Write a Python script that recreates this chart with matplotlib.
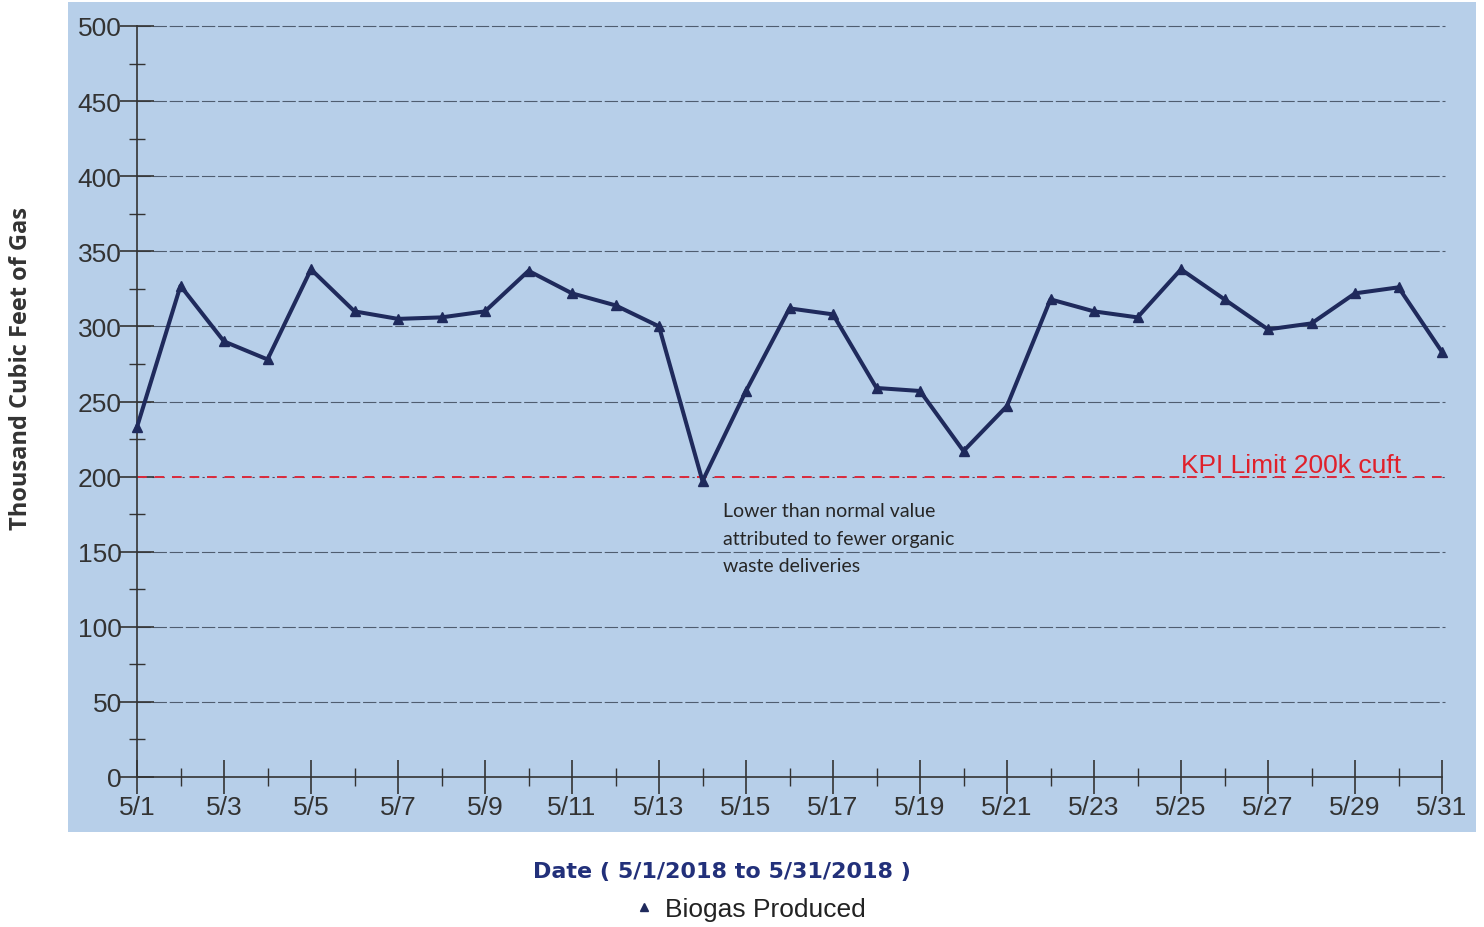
import matplotlib
matplotlib.use("Agg")
import matplotlib.pyplot as plt
from matplotlib.patches import Rectangle
from matplotlib.lines import Line2D

# Daily biogas production, May 2018 (thousand cubic feet)
days = list(range(1, 32))
biogas = [233, 327, 290, 278, 338, 310, 305, 306, 310, 337, 322, 314, 300, 197,
          257, 312, 308, 259, 257, 217, 247, 318, 310, 306, 338, 318, 298, 302,
          322, 326, 283]
tick_days = list(range(1, 32, 2))
tick_labels = [f"5/{d}" for d in tick_days]
minor_days = list(range(2, 31, 2))
y_ticks = list(range(0, 501, 50))
y_minor = list(range(25, 500, 50))
kpi_limit = 200

plt.rcParams['font.family'] = ['Liberation Sans', 'DejaVu Sans']

W, H = 1484, 928
fig = plt.figure(figsize=(W / 100, H / 100), dpi=100)
fig.patch.set_facecolor('white')

# light-blue backdrop behind the plot and its tick labels
panel = Rectangle((68 / W, 1 - 833 / H), (1476 - 68) / W, (833 - 3) / H,
                  transform=fig.transFigure, facecolor='#b7cfe9',
                  edgecolor='none', zorder=-10)
fig.patches.append(panel)

ax = fig.add_axes([137 / W, 1 - 778 / H, (1442 - 137) / W, (778 - 27) / H])
ax.set_zorder(1)
ax.set_facecolor('none')
ax.set_xlim(1, 31)
ax.set_ylim(0, 500)

grid_end = (1445 - 137) / (1442 - 137)
for y in y_ticks[1:]:
    if y == kpi_limit:
        continue
    ax.axhline(y, xmin=0, xmax=grid_end, color='#4f5d70', lw=0.8,
               ls=(0, (12, 2.5)), clip_on=False, zorder=1)

# KPI threshold
ax.axhline(kpi_limit, xmin=0, xmax=grid_end, color='#454f66', lw=0.8,
           ls=(4.5, (2, 7)), clip_on=False, zorder=1)
ax.axhline(kpi_limit, xmin=0, xmax=grid_end, color='#da2a3c', lw=1.4,
           ls=(0, (5, 4)), clip_on=False, zorder=2)
ax.text(25.0, kpi_limit + 3, 'KPI Limit 200k cuft', color='#e0202a',
        fontsize=19, va='baseline', ha='left', zorder=3)

ax.plot(days, biogas, color='#1f2a5c', lw=2.9, marker='^', ms=7,
        zorder=4, clip_on=False)

ax.text(14.47, 183, 'Lower than normal value\nattributed to fewer organic\nwaste deliveries',
        family=['Lato', 'DejaVu Sans'], fontsize=14, va='top', ha='left',
        linespacing=1.75, color='#262626', zorder=3)

for s in ('top', 'right'):
    ax.spines[s].set_visible(False)
for s in ('left', 'bottom'):
    ax.spines[s].set_color('#333333')
    ax.spines[s].set_linewidth(1.2)

ax.set_xticks(tick_days)
ax.set_xticklabels(tick_labels)
ax.set_xticks(minor_days, minor=True)
ax.set_yticks(y_ticks)
ax.set_yticks(y_minor, minor=True)
ax.tick_params(axis='both', which='major', direction='inout', length=24,
               width=1.2, colors='#333333', labelsize=19)
ax.tick_params(axis='x', which='major', pad=1)
ax.tick_params(axis='y', which='major', pad=-1)
ax.tick_params(axis='x', which='minor', direction='inout', length=13,
               width=1.0, colors='#333333')
ax.tick_params(axis='y', which='minor', direction='inout', length=11,
               width=1.0, colors='#333333')

fig.text(21 / W, 1 - 368 / H, 'Thousand Cubic Feet of Gas', rotation=90,
         ha='center', va='center', fontsize=17, fontweight='bold',
         family=['Open Sans', 'DejaVu Sans'], color='#333333')

fig.text(722 / W, 1 - 872 / H, 'Date ( 5/1/2018 to 5/31/2018 )',
         ha='center', va='center', fontsize=16, fontweight='bold',
         family=['DejaVu Sans'], color='#22307a')

handle = Line2D([], [], color='#1f2a5c', marker='^', ls='none', ms=6)
fig.legend([handle], ['Biogas Produced'], loc='center',
           bbox_to_anchor=(750 / W, 1 - 910 / H), frameon=False,
           fontsize=19, handlelength=0.8, handletextpad=0.4,
           labelcolor='#222222')

fig.savefig('out.png', dpi=100)
